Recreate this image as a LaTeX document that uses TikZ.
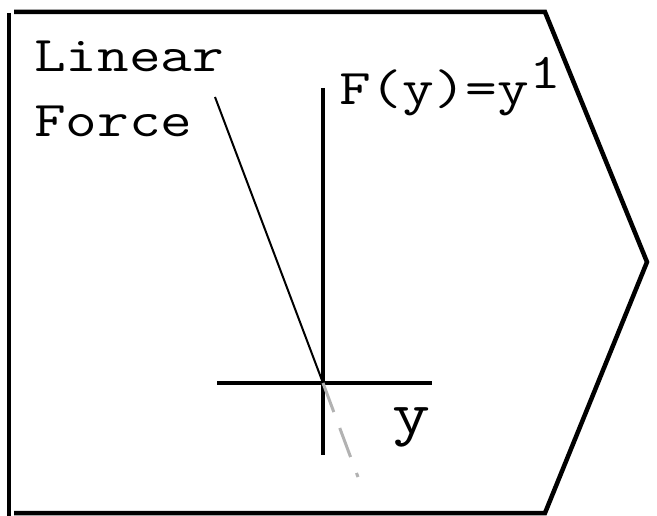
\documentclass[tikz,border=0pt]{standalone}
\usepackage{fontspec}
\newfontfamily\courfont[FakeStretch=1.23]{Latin Modern Mono}
\usetikzlibrary{positioning}

\begin{document}
\begin{tikzpicture}[
  x=1pt, y=-1pt,
  outline/.style={line width=4.5pt},
  axis/.style={line width=4pt},
  force/.style={line width=2pt},
  extend/.style={line width=3pt,gray!60,dash pattern=on 31pt off 17pt},
  txt/.style={inner sep=0pt,anchor=base west,font=\courfont\fontsize{50}{65}\selectfont}
]
\useasboundingbox (0,0) rectangle (657,516);
% block outline
\draw[outline] (14,12) -- (545,12) -- (647,262) -- (545,513) -- (14,513);
\draw[outline] (9,13) -- (9,516);
% axes
\coordinate (o) at (323,383);
\coordinate (vtop) at (323,88);
\coordinate (vbot) at (323,455);
\coordinate (hl) at (217,383);
\coordinate (hr) at (432,383);
\draw[axis] (vtop) -- (vbot);
\draw[axis] (hl) -- (hr);
% labels
\node[txt] (lin) at (34,72) {Linear};
\node[txt] (frc) at (34,137) {Force};
\node[txt] (fy) at (339,105) {F(y)=y\raisebox{16pt}{1}};
\node[txt,font=\courfont\fontsize{60}{70}\selectfont] (ylab) at (392,433) {y};
% force line and its continuation
\coordinate (fstart) at (215,97);
\coordinate (fend) at (358,477);
\draw[force] (fstart) -- (o);
\draw[extend] (o) -- (fend);
\end{tikzpicture}
\end{document}
